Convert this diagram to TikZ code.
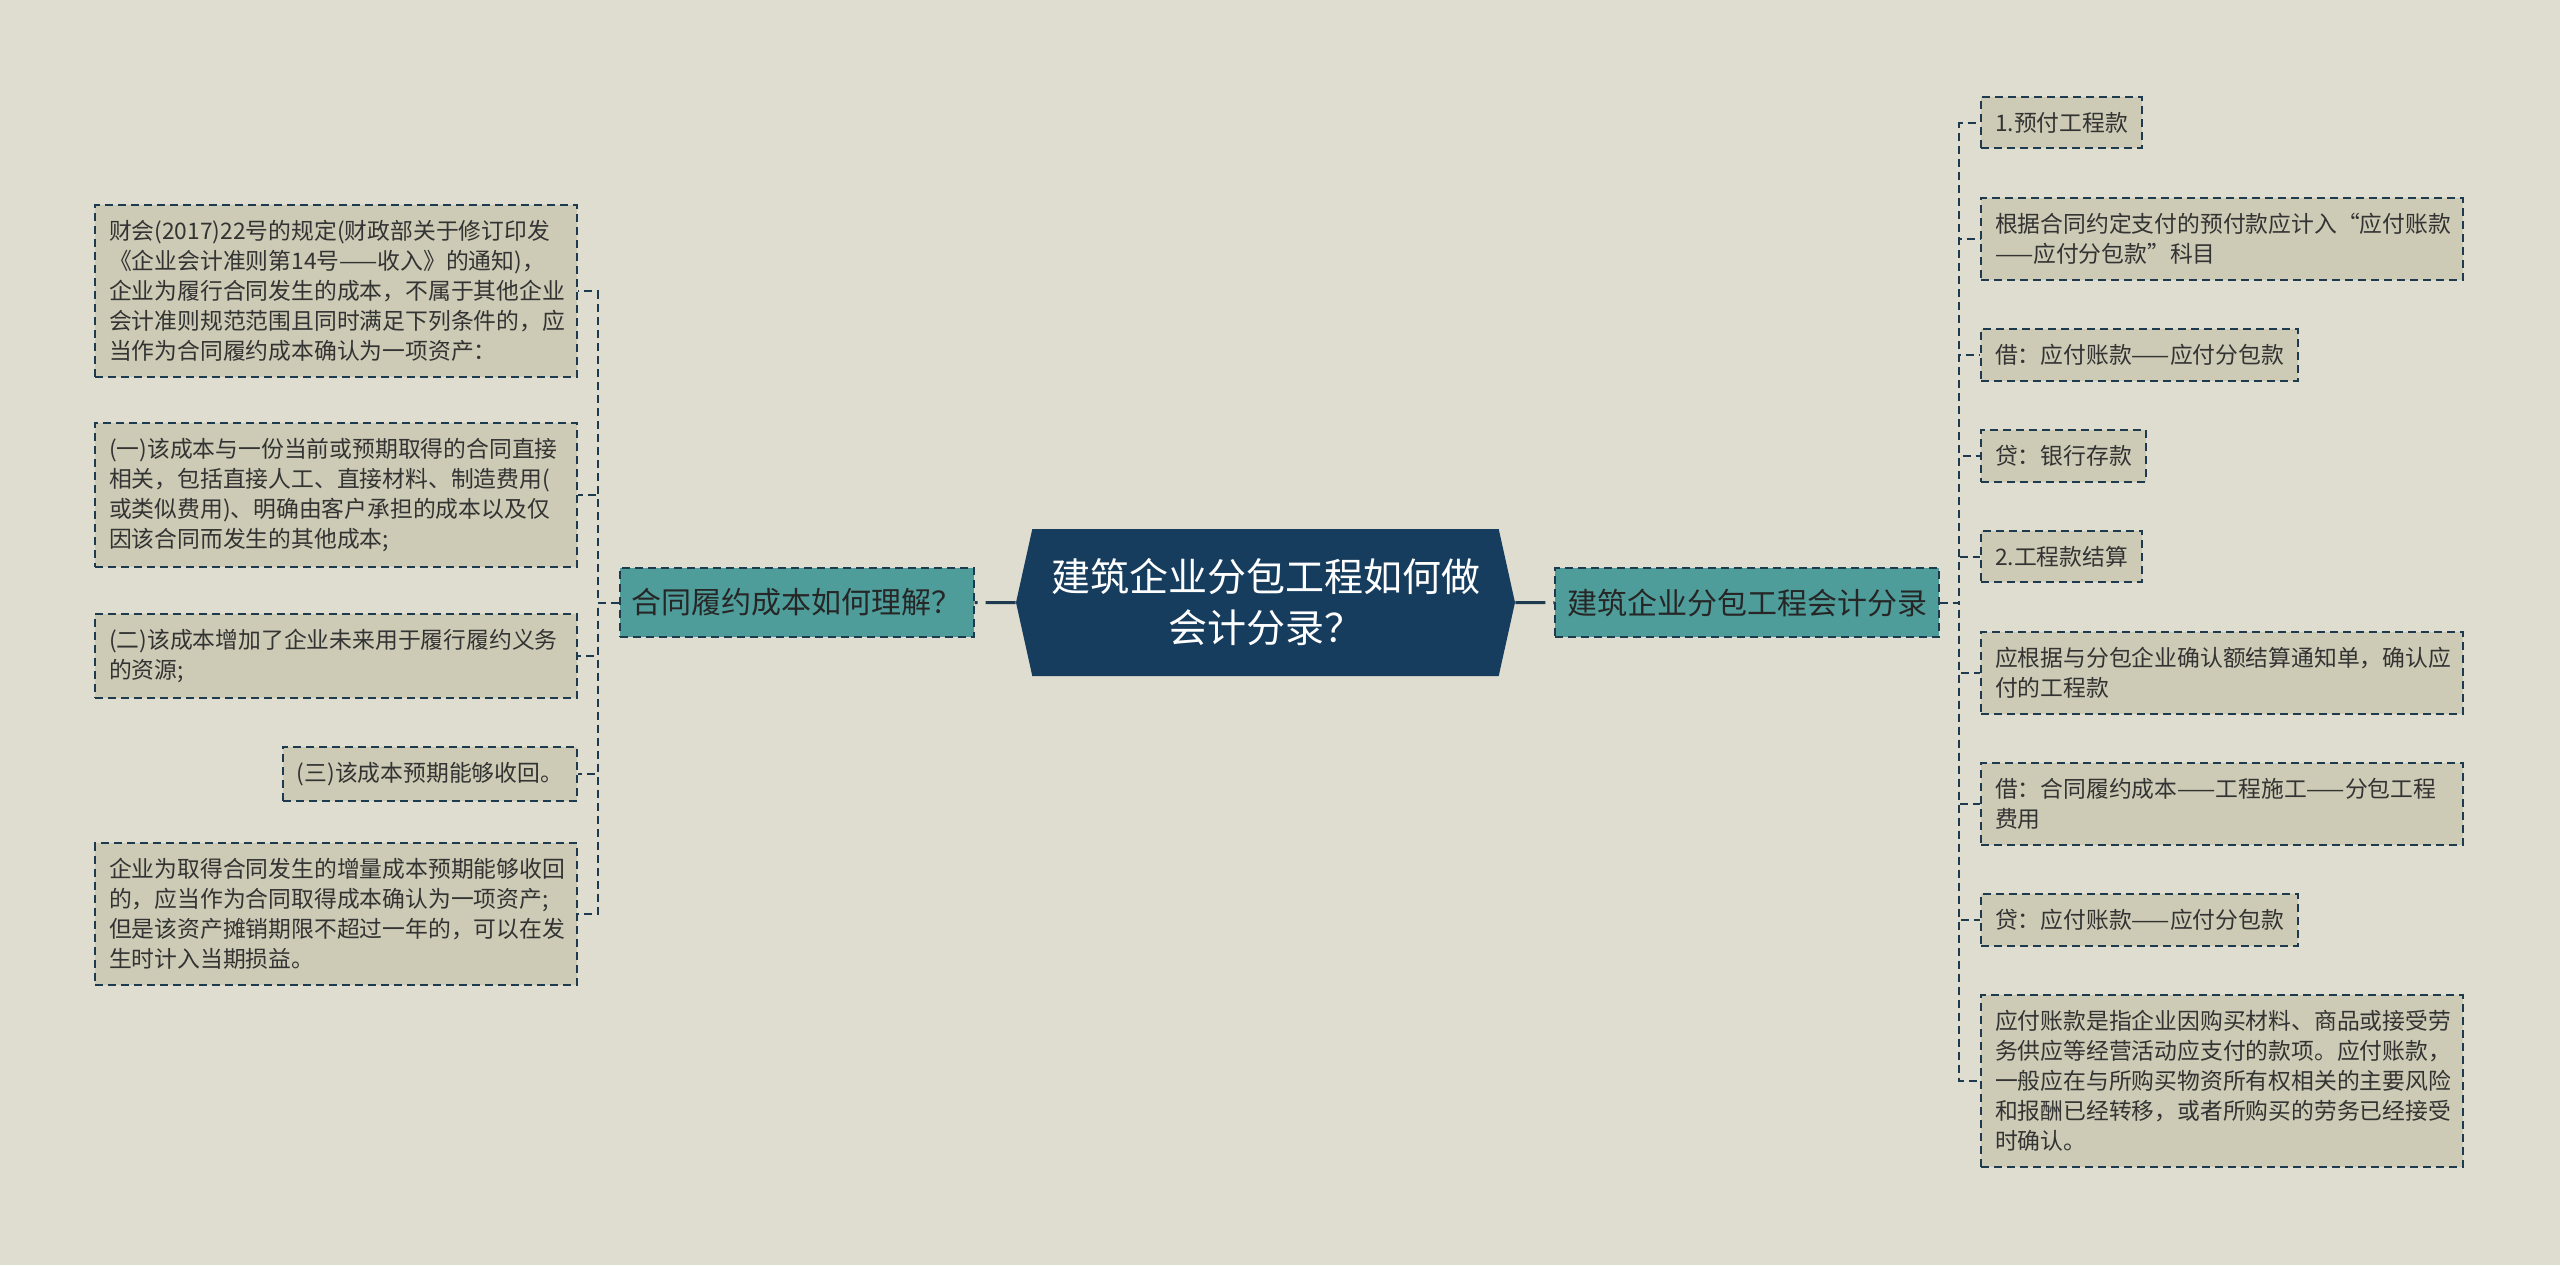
\documentclass[tikz,border=0pt]{standalone}
\usepackage{fontspec}
\setmainfont{Noto Sans CJK SC}
\usetikzlibrary{positioning, calc, shapes.symbols}
\definecolor{paper}{HTML}{DFDDCF}
\definecolor{leaffill}{HTML}{CDCBB5}
\definecolor{edgeblue}{HTML}{1E3A4F}
\definecolor{rootblue}{HTML}{173D5E}
\definecolor{branchteal}{HTML}{4F9D9A}
\tikzstyle{Link} = [
    draw=edgeblue,
    line width=1pt,
    dash pattern=on 4pt off 2.5pt
]
\tikzstyle{Trunk} = [
    draw=edgeblue,
    line width=1.5pt,
    dash pattern=on 15pt off 4pt
]

\begin{document}
\begin{tikzpicture}[
x=0.5pt, y=-0.5pt,
leaf/.style={
    rectangle,
    draw=edgeblue,
    fill=leaffill,
    line width=1pt,
    dash pattern=on 4pt off 2.5pt,
    inner xsep=7pt,
    inner ysep=7.6pt,
    align=left,
    text=black!80,
    font=\fontsize{11.4pt}{15pt}\selectfont
    },
wide/.style={
    leaf,
    text width=227pt
    },
branch/.style={
    rectangle,
    draw=edgeblue,
    fill=branchteal,
    line width=1pt,
    dash pattern=on 4pt off 2.5pt,
    inner xsep=6pt,
    minimum height=34.5pt,
    text=black!85,
    font=\fontsize{15pt}{18pt}\selectfont
    },
root/.style={
    signal,
    signal to=west and east,
    signal pointer angle=155,
    fill=rootblue,
    minimum width=249.5pt,
    minimum height=73.5pt,
    align=center,
    text=white,
    font=\fontsize{19.5pt}{25.5pt}\selectfont
    }
]

\fill[paper] (0,0) rectangle (2560,1265);
\useasboundingbox (0,0) rectangle (2560,1265);

\node [root] (0) at (1265.5,602.5) {建筑企业分包工程如何做\\会计分录？};
\node [branch, left = 20.5pt of 0] (1) {合同履约成本如何理解？};
\node [branch, right = 19.5pt of 0] (2) {建筑企业分包工程会计分录};

\node [wide, anchor=north east] (11) at (578,204) {
    财会(2017)22号的规定(财政部关于修订印发\\
    《企业会计准则第14号——收入》的通知)，\\
    企业为履行合同发生的成本，不属于其他企业\\
    会计准则规范范围且同时满足下列条件的，应\\
    当作为合同履约成本确认为一项资产：};
\node [wide, below left = 22.3pt and 0pt of 11.south east] (12) {
    (一)该成本与一份当前或预期取得的合同直接\\
    相关，包括直接人工、直接材料、制造费用(\\
    或类似费用)、明确由客户承担的成本以及仅\\
    因该合同而发生的其他成本;};
\node [wide, below left = 22.3pt and 0pt of 12.south east] (13) {
    (二)该成本增加了企业未来用于履行履约义务\\
    的资源;};
\node [leaf, below left = 23.3pt and 0pt of 13.south east] (14) {(三)该成本预期能够收回。};
\node [wide, below left = 20.3pt and 0pt of 14.south east] (15) {
    企业为取得合同发生的增量成本预期能够收回\\
    的，应当作为合同取得成本确认为一项资产;\\
    但是该资产摊销期限不超过一年的，可以在发\\
    生时计入当期损益。};

\node [leaf, anchor=north west] (21) at (1980,96) {1.预付工程款};
\node [wide, below right = 23.7pt and 0pt of 21.south west] (22) {
    根据合同约定支付的预付款应计入“应付账款\\
    ——应付分包款”科目};
\node [leaf, below right = 23.7pt and 0pt of 22.south west] (23) {借：应付账款——应付分包款};
\node [leaf, below right = 23.7pt and 0pt of 23.south west] (24) {贷：银行存款};
\node [leaf, below right = 23.7pt and 0pt of 24.south west] (25) {2.工程款结算};
\node [wide, below right = 23.7pt and 0pt of 25.south west] (26) {
    应根据与分包企业确认额结算通知单，确认应\\
    付的工程款};
\node [wide, below right = 23.7pt and 0pt of 26.south west] (27) {
    借：合同履约成本——工程施工——分包工程\\
    费用};
\node [leaf, below right = 23.7pt and 0pt of 27.south west] (28) {贷：应付账款——应付分包款};
\node [wide, below right = 23.7pt and 0pt of 28.south west] (29) {
    应付账款是指企业因购买材料、商品或接受劳\\
    务供应等经营活动应支付的款项。应付账款，\\
    一般应在与所购买物资所有权相关的主要风险\\
    和报酬已经转移，或者所购买的劳务已经接受\\
    时确认。};

\coordinate (1bus) at ($(1.west)+(-10.5pt,0)$);
\coordinate (2bus) at ($(2.east)+(9.5pt,0)$);

\draw[Trunk] (0) -- (1);
\draw[Trunk] (0) -- (2);

\foreach \n in {11,12,13,14,15}
    \draw[Link] (1.west) -- (1bus) |- (\n.east);
\foreach \n in {21,22,23,24,25,26,27,28,29}
    \draw[Link] (2.east) -- (2bus) |- (\n.west);

\end{tikzpicture}
\end{document}
